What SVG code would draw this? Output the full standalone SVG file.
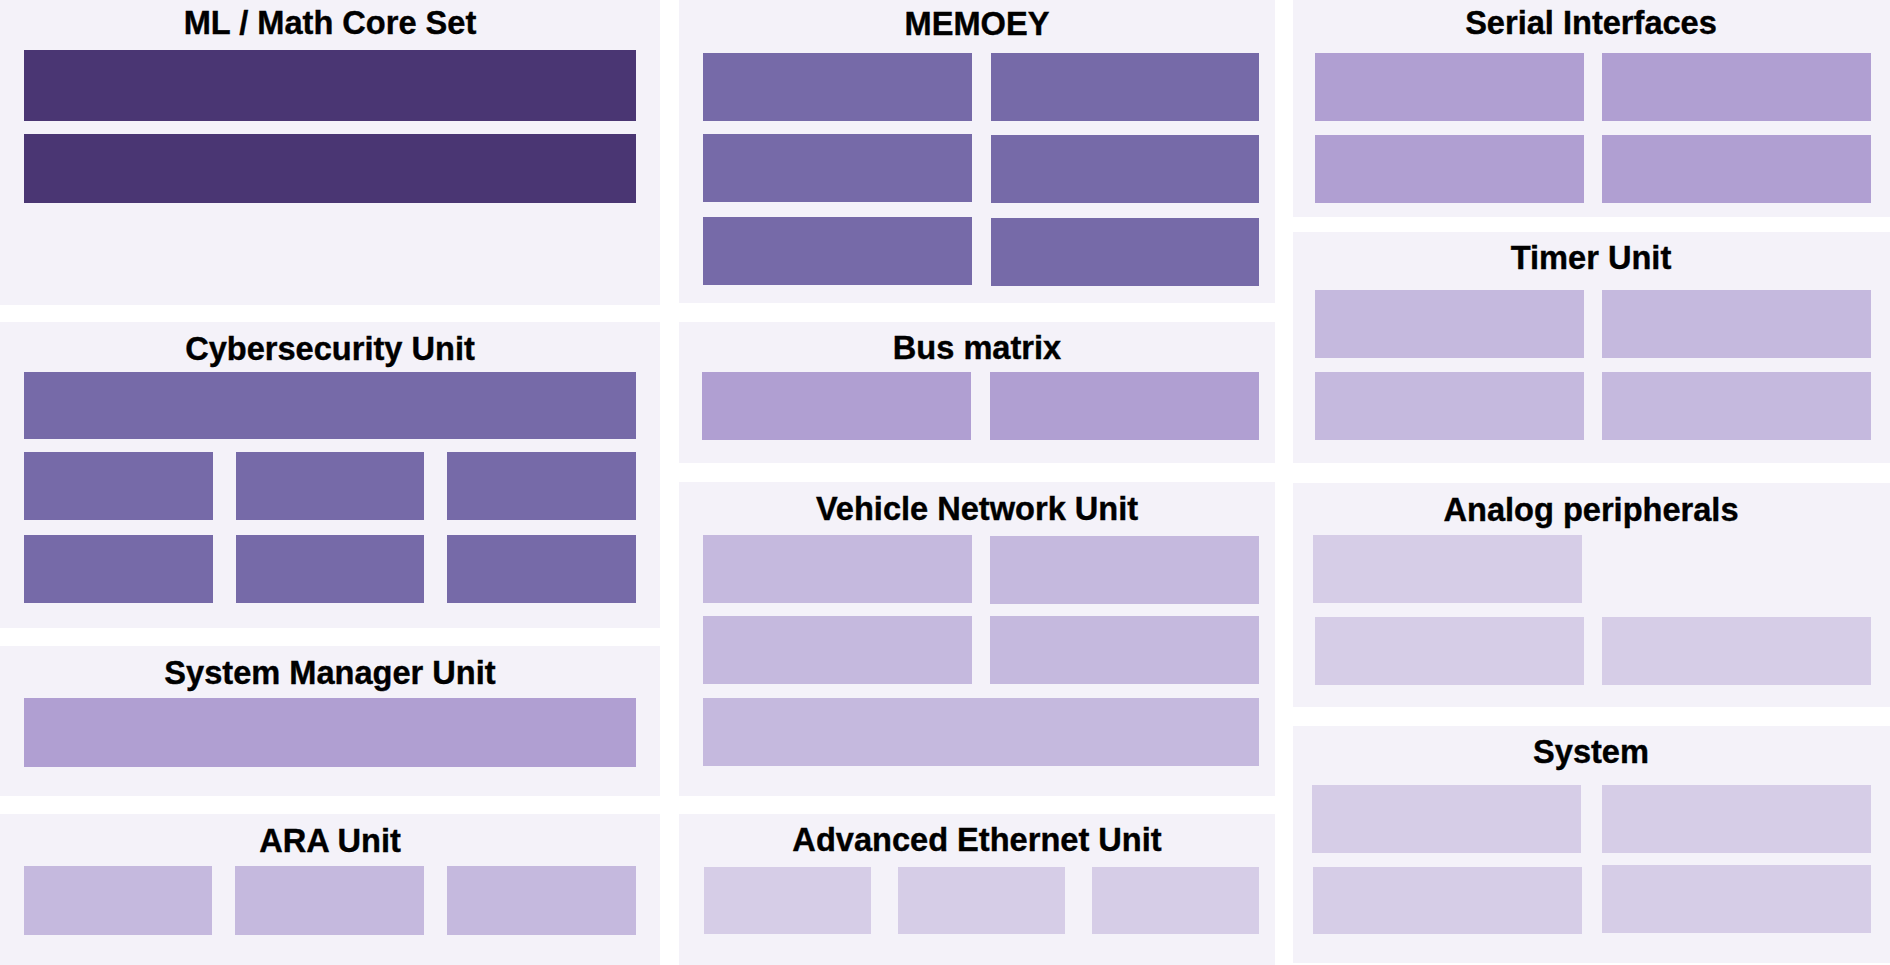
<svg xmlns="http://www.w3.org/2000/svg" width="1890" height="965" viewBox="0 0 1890 965">
<style>
.panel{fill:#f4f2f9}
.t{font-family:"Liberation Sans",Arial,sans-serif;font-weight:bold;font-size:32.6px;fill:#000;stroke:#000;stroke-width:0.4px;text-anchor:middle}
.c1{fill:#4a3673}
.c2{fill:#766aa8}
.c3{fill:#b09fd2}
.c4{fill:#c5b9de}
.c5{fill:#d6cde7}
</style>
<rect width="1890" height="965" fill="#ffffff"/>

<g id="ml-math-core-set">
<rect class="panel" x="0" y="0" width="660" height="305"/>
<text class="t" x="330" y="34">ML / Math Core Set</text>
<rect class="c1" x="24" y="50" width="612" height="71"/>
<rect class="c1" x="24" y="134" width="612" height="69"/>
</g>

<g id="cybersecurity-unit">
<rect class="panel" x="0" y="322" width="660" height="306"/>
<text class="t" x="330" y="360">Cybersecurity Unit</text>
<rect class="c2" x="24" y="372" width="612" height="67"/>
<rect class="c2" x="24" y="452" width="189" height="68"/>
<rect class="c2" x="236" y="452" width="188" height="68"/>
<rect class="c2" x="447" y="452" width="189" height="68"/>
<rect class="c2" x="24" y="535" width="189" height="68"/>
<rect class="c2" x="236" y="535" width="188" height="68"/>
<rect class="c2" x="447" y="535" width="189" height="68"/>
</g>

<g id="system-manager-unit">
<rect class="panel" x="0" y="646" width="660" height="150"/>
<text class="t" x="330" y="684">System Manager Unit</text>
<rect class="c3" x="24" y="698" width="612" height="69"/>
</g>

<g id="ara-unit">
<rect class="panel" x="0" y="814" width="660" height="151"/>
<text class="t" x="330" y="852">ARA Unit</text>
<rect class="c4" x="24" y="866" width="188" height="69"/>
<rect class="c4" x="235" y="866" width="189" height="69"/>
<rect class="c4" x="447" y="866" width="189" height="69"/>
</g>

<g id="memoey">
<rect class="panel" x="679" y="0" width="596" height="303"/>
<text class="t" x="977" y="35">MEMOEY</text>
<rect class="c2" x="703" y="53" width="269" height="68"/>
<rect class="c2" x="991" y="53" width="268" height="68"/>
<rect class="c2" x="703" y="134" width="269" height="68"/>
<rect class="c2" x="991" y="135" width="268" height="68"/>
<rect class="c2" x="703" y="217" width="269" height="68"/>
<rect class="c2" x="991" y="218" width="268" height="68"/>
</g>

<g id="bus-matrix">
<rect class="panel" x="679" y="322" width="596" height="141"/>
<text class="t" x="977" y="359">Bus matrix</text>
<rect class="c3" x="702" y="372" width="269" height="68"/>
<rect class="c3" x="990" y="372" width="269" height="68"/>
</g>

<g id="vehicle-network-unit">
<rect class="panel" x="679" y="482" width="596" height="314"/>
<text class="t" x="977" y="520">Vehicle Network Unit</text>
<rect class="c4" x="703" y="535" width="269" height="68"/>
<rect class="c4" x="990" y="536" width="269" height="68"/>
<rect class="c4" x="703" y="616" width="269" height="68"/>
<rect class="c4" x="990" y="616" width="269" height="68"/>
<rect class="c4" x="703" y="698" width="556" height="68"/>
</g>

<g id="advanced-ethernet-unit">
<rect class="panel" x="679" y="814" width="596" height="151"/>
<text class="t" x="977" y="851">Advanced Ethernet Unit</text>
<rect class="c5" x="704" y="867" width="167" height="67"/>
<rect class="c5" x="898" y="867" width="167" height="67"/>
<rect class="c5" x="1092" y="867" width="167" height="67"/>
</g>

<g id="serial-interfaces">
<rect class="panel" x="1293" y="0" width="597" height="217"/>
<text class="t" x="1591" y="34">Serial Interfaces</text>
<rect class="c3" x="1315" y="53" width="269" height="68"/>
<rect class="c3" x="1602" y="53" width="269" height="68"/>
<rect class="c3" x="1315" y="135" width="269" height="68"/>
<rect class="c3" x="1602" y="135" width="269" height="68"/>
</g>

<g id="timer-unit">
<rect class="panel" x="1293" y="232" width="597" height="231"/>
<text class="t" x="1591" y="269">Timer Unit</text>
<rect class="c4" x="1315" y="290" width="269" height="68"/>
<rect class="c4" x="1602" y="290" width="269" height="68"/>
<rect class="c4" x="1315" y="372" width="269" height="68"/>
<rect class="c4" x="1602" y="372" width="269" height="68"/>
</g>

<g id="analog-peripherals">
<rect class="panel" x="1293" y="483" width="597" height="224"/>
<text class="t" x="1591" y="521">Analog peripherals</text>
<rect class="c5" x="1313" y="535" width="269" height="68"/>
<rect class="c5" x="1315" y="617" width="269" height="68"/>
<rect class="c5" x="1602" y="617" width="269" height="68"/>
</g>

<g id="system">
<rect class="panel" x="1293" y="726" width="597" height="237"/>
<text class="t" x="1591" y="763">System</text>
<rect class="c5" x="1312" y="785" width="269" height="68"/>
<rect class="c5" x="1602" y="785" width="269" height="68"/>
<rect class="c5" x="1313" y="867" width="269" height="67"/>
<rect class="c5" x="1602" y="865" width="269" height="68"/>
</g>

<g id="connectors"></g>
</svg>
